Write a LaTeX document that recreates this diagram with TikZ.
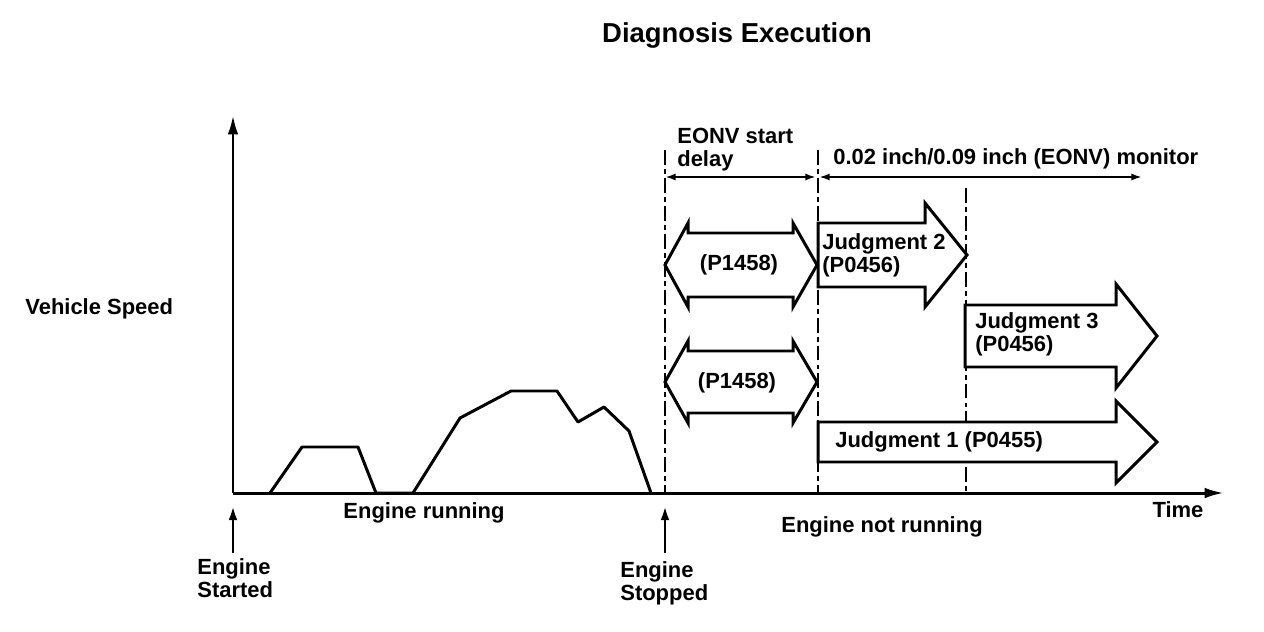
\documentclass[tikz,border=0pt]{standalone}
\usepackage{fontspec}
\setmainfont{Liberation Sans}
\usetikzlibrary{arrows.meta}
\tikzset{
  lbl/.style={font=\fontsize{12.5}{13}\selectfont\bfseries, inner sep=0pt, align=left},
  blk/.style={line width=1.7pt, line join=miter, fill=white},
  tline/.style={line width=1.1pt, dash pattern=on 8.5pt off 2.3pt on 2.8pt off 2.3pt},
  axis/.style={line width=1.7pt, -{Latex[length=11pt,width=6pt]}},
  dim/.style={line width=1.2pt, {Latex[length=6pt,width=4pt]}-{Latex[length=6pt,width=4pt]}},
  evt/.style={line width=1.5pt, -{Latex[length=8pt,width=5pt]}}
}
\begin{document}
\begin{tikzpicture}[x=0.02cm,y=-0.02cm]
\useasboundingbox (0,0) rectangle (1264,632);
% axes
\coordinate (o) at (233,493);
\coordinate (ytop) at (233,115);
\coordinate (xend) at (1224,493);
\draw[axis] (o) -- (ytop);
\draw[axis] (o) -- (xend);
% vehicle speed
\draw[line width=1.7pt, line join=round] (270,493) -- (302,447) -- (358,447) -- (376,493) -- (413,493) -- (460,418) -- (511,391) -- (557,391) -- (578,422) -- (604,407) -- (629,431) -- (651,493);
% time marks
\foreach \x/\y in {665/150, 818/150, 966/188}
\draw[tline] (\x,\y) -- (\x,493);
\coordinate (d0) at (665,177);
\coordinate (d1) at (816,177);
\coordinate (d2) at (819,177);
\coordinate (d3) at (1142,177);
\draw[dim] (d0) -- (d1);
\draw[dim] (d2) -- (d3);
% double arrows
\foreach \c/\b/\w in {265/32/42, 382/31/41}
\draw[blk] (665,\c) -- (688,{\c-\w}) -- (688,{\c-\b}) -- (793,{\c-\b}) -- (793,{\c-\w}) -- (817,\c) -- (793,{\c+\w}) -- (793,{\c+\b}) -- (688,{\c+\b}) -- (688,{\c+\w}) -- cycle;
% judgment arrows
\foreach \l/\h/\t/\c/\b/\w in {818/925/967/255/32/52, 965/1116/1157/336/31/52, 818/1116/1157/442/20/41}
\draw[blk] (\l,{\c-\b}) -- (\h,{\c-\b}) -- (\h,{\c-\w}) -- (\t,\c) -- (\h,{\c+\w}) -- (\h,{\c+\b}) -- (\l,{\c+\b}) -- cycle;
% labels
\node[lbl, font=\fontsize{15.6}{18}\selectfont\bfseries] (title) at (737,35) {Diagnosis Execution};
\node[lbl, anchor=west] (speed) at (25,309) {Vehicle Speed};
\node[lbl] (time) at (1178,510) {Time};
\node[lbl] (run) at (424,513) {Engine running};
\node[lbl] (notrun) at (882,527) {Engine not running};
\node[lbl, anchor=west] (started) at (197,578) {Engine\\Started};
\node[lbl, anchor=west] (stopped) at (620,583) {Engine\\Stopped};
\node[lbl, anchor=west] (delay) at (677,150) {EONV start\\delay};
\node[lbl, anchor=west] (mon) at (833,159) {0.02 inch/0.09 inch (EONV) monitor};
\node[lbl] (pa) at (739,265) {(P1458)};
\node[lbl] (pb) at (737,383) {(P1458)};
\node[lbl, anchor=west] (j2) at (822,255) {Judgment 2\\(P0456)};
\node[lbl, anchor=west] (j3) at (975,334) {Judgment 3\\(P0456)};
\node[lbl, anchor=west] (j1) at (835,442) {Judgment 1 (P0455)};
% engine events
\coordinate (es0) at (233,553);
\coordinate (es) at (233,506);
\coordinate (ep0) at (665,553);
\coordinate (ep) at (665,506);
\draw[evt] (es0) -- (es);
\draw[evt] (ep0) -- (ep);
\end{tikzpicture}
\end{document}
